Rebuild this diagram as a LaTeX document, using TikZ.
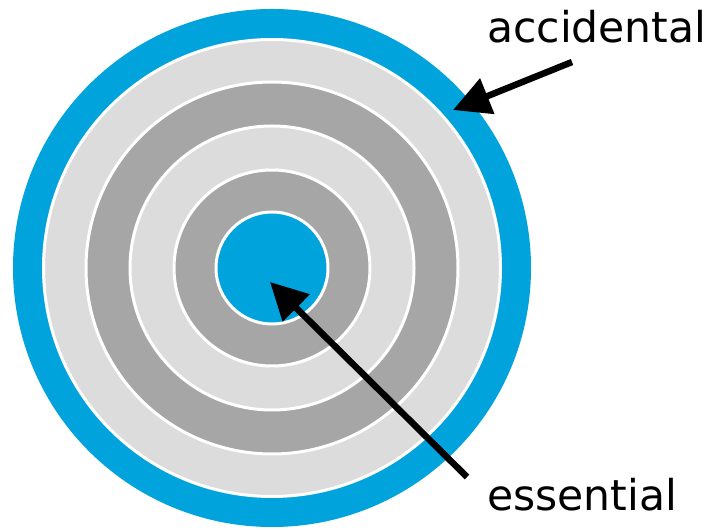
\documentclass[tikz,border=0pt]{standalone}
\usepackage{fontspec}
\setmainfont{DejaVu Sans}
\usepackage{tikz}
\usetikzlibrary{arrows.meta, positioning}
\definecolor{cblue}{HTML}{00A3DC}
\definecolor{clight}{HTML}{DCDCDC}
\definecolor{cdark}{HTML}{A6A6A6}

\begin{document}
\begin{tikzpicture}[x=1pt, y=1pt,
      ring/.style={circle, draw=white, line width=3pt, inner sep=0pt, outer sep=0pt},
      lbl/.style={font=\fontsize{42.5}{50}\selectfont, inner sep=0pt, anchor=base west},
      pointer/.style={line width=6.5pt, -{Triangle[length=37pt, width=37pt]}}]
    \useasboundingbox (0,0) rectangle (715,530);
    % rings, outermost first
    \node[circle, fill=cblue, inner sep=0pt, minimum size=518pt] (outer) at (272,262) {};
    \node[ring, fill=clight, minimum size=457pt] (r1) at (outer.center) {};
    \node[ring, fill=cdark, minimum size=372pt] (r2) at (outer.center) {};
    \node[ring, fill=clight, minimum size=284pt] (r3) at (outer.center) {};
    \node[ring, fill=cdark, minimum size=196pt] (r4) at (outer.center) {};
    \node[ring, fill=cblue, minimum size=112pt] (core) at (outer.center) {};
    % labels
    \node[lbl] (acc) at (487,487) {accidental};
    \node[lbl] (ess) at (487,19) {essential};
    \coordinate (acctail) at (572,468);
    \coordinate (acctip) at (453,420);
    \coordinate (esstail) at (467,53);
    \coordinate (esstip) at (270,248);
    \draw[pointer] (acctail) -- (acctip);
    \draw[pointer] (esstail) -- (esstip);
  \end{tikzpicture}
\end{document}
